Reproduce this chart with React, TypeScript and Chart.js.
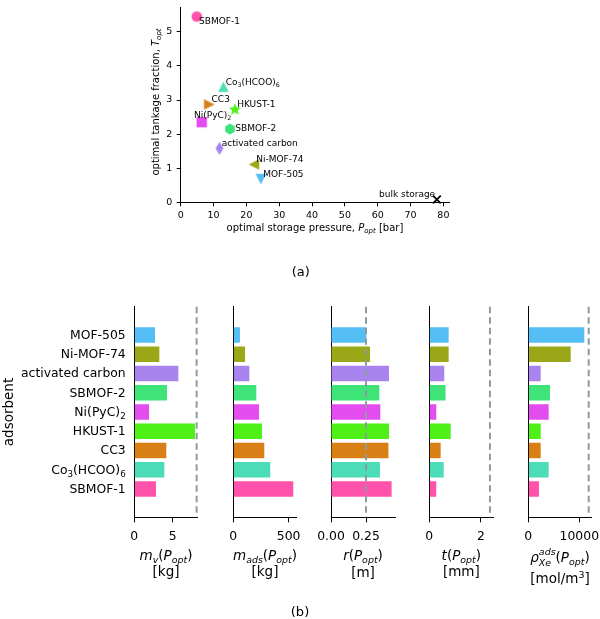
import React, { useEffect, useRef } from "react";
import { Chart, registerables } from "chart.js";

Chart.register(...registerables);

// ---------------- data ----------------
const ADSORBENTS = [
  "MOF-505",
  "Ni-MOF-74",
  "activated carbon",
  "SBMOF-2",
  "Ni(PyC)₂",
  "HKUST-1",
  "CC3",
  "Co₃(HCOO)₆",
  "SBMOF-1",
];
const COLORS = ["#55bef5", "#9aa817", "#a984ee", "#3fe479", "#e34cef", "#4ef016", "#d87f16", "#4cdcb8", "#ff52ab"];
const MARKERS = ["v", "<", "d", "h", "s", "*", ">", "^", "o"];

// optimal storage pressure [bar] and tankage fraction
const P_OPT = [24.4, 22.3, 11.8, 15.0, 6.4, 16.5, 8.7, 13.0, 4.9];
const T_OPT = [0.68, 1.11, 1.58, 2.15, 2.35, 2.72, 2.87, 3.39, 5.45];
const BULK_LABEL = "bulk storage";
const BULK_P = 78.0;
const BULK_T = 0.085;
const P_TICKS = [0, 10, 20, 30, 40, 50, 60, 70, 80];
const T_TICKS = [0, 1, 2, 3, 4, 5];

// bar panels
const M_V = [2.7, 3.26, 5.74, 4.26, 1.92, 7.91, 4.17, 3.91, 2.83];
const M_ADS = [60, 106, 145, 208, 232, 259, 280, 334, 542];
const R_TANK = [0.252, 0.279, 0.414, 0.345, 0.352, 0.414, 0.41, 0.35, 0.433];
const T_WALL = [0.75, 0.75, 0.58, 0.63, 0.27, 0.83, 0.44, 0.56, 0.27];
const RHO_XE = [10980, 8310, 2430, 4250, 3990, 2430, 2430, 3990, 2100];

const MV_TICKS = [0, 5];
const MADS_TICKS = [0, 500];
const R_TICKS = [0, 0.25];
const T_TICKS_BAR = [0, 2];
const RHO_TICKS = [0, 10000];

const MV_LIMIT = 8.12;
const R_LIMIT = 0.25;
const T_LIMIT = 2.35;
const RHO_LIMIT = 11840;

// ---------------- layout / style ----------------
const W = 600;
const H = 619;
const XH = 40;
const FONT = '"DejaVu Sans", "Liberation Sans", sans-serif';
const LIMIT_COLOR = "#8c9c9c";

type Seg = { t?: string; i?: boolean; sub?: boolean; sup?: boolean; up?: string; dn?: string };
type TextItem = { x: number; y: number; size: number; segs: Seg[]; align?: "left" | "center" | "right"; rot?: number };
type Area = { l: number; t: number; r: number; b: number };

const SUB_DIGITS = "₀₁₂₃₄₅₆₇₈₉";

// turn a name with unicode subscript digits into rich-text segments
function nameSegs(name: string): Seg[] {
  const out: Seg[] = [];
  for (const ch of name) {
    const d = SUB_DIGITS.indexOf(ch);
    const sub = d >= 0;
    const c = sub ? String(d) : ch;
    const last = out[out.length - 1];
    if (last && !!last.sub === sub) last.t += c;
    else out.push({ t: c, sub });
  }
  return out;
}

function fontStr(size: number, italic: boolean) {
  return `${italic ? "italic " : ""}${size}px ${FONT}`;
}

function segWidth(ctx: CanvasRenderingContext2D, s: Seg, size: number) {
  const small = size * 0.7;
  if (s.up !== undefined || s.dn !== undefined) {
    ctx.font = fontStr(small, true);
    return Math.max(ctx.measureText(s.up || "").width, ctx.measureText(s.dn || "").width);
  }
  ctx.font = fontStr(s.sub || s.sup ? small : size, !!s.i);
  return ctx.measureText(s.t || "").width;
}

function drawRich(ctx: CanvasRenderingContext2D, item: TextItem) {
  const { x, y, size, segs, align = "center", rot = 0 } = item;
  ctx.save();
  ctx.translate(x, y);
  if (rot) ctx.rotate(rot);
  ctx.fillStyle = "#000";
  ctx.textBaseline = "alphabetic";
  ctx.textAlign = "left";
  const widths = segs.map((s) => segWidth(ctx, s, size));
  const total = widths.reduce((a, b) => a + b, 0);
  let cx = align === "left" ? 0 : align === "right" ? -total : -total / 2;
  const base = 0.35 * size;
  const small = size * 0.7;
  segs.forEach((s, k) => {
    if (s.up !== undefined || s.dn !== undefined) {
      ctx.font = fontStr(small, true);
      if (s.up) ctx.fillText(s.up, cx, base - 0.5 * size);
      if (s.dn) ctx.fillText(s.dn, cx, base + 0.28 * size);
    } else {
      const fs = s.sub || s.sup ? small : size;
      ctx.font = fontStr(fs, !!s.i);
      const dy = s.sub ? 0.24 * size : s.sup ? -0.42 * size : 0;
      ctx.fillText(s.t || "", cx, base + dy);
    }
    cx += widths[k];
  });
  ctx.restore();
}

function textPlugin(items: TextItem[]) {
  return {
    id: "richText",
    afterDraw(chart: any) {
      const ctx = chart.ctx as CanvasRenderingContext2D;
      items.forEach((it) => drawRich(ctx, it));
    },
  };
}

// category labels on the left of the first bar panel (rich text, for the subscripts)
const categoryLabelPlugin = {
  id: "categoryLabels",
  afterDraw(chart: any) {
    const ctx = chart.ctx as CanvasRenderingContext2D;
    const ys = chart.scales.y;
    const x = chart.chartArea.left - 8.6;
    ADSORBENTS.forEach((name, i) => {
      drawRich(ctx, { x, y: ys.getPixelForValue(i) - 0.5, size: 12.4, segs: nameSegs(name), align: "right" });
    });
  },
};

function limitPlugin(value: number | null) {
  return {
    id: "limitLine",
    afterDatasetsDraw(chart: any) {
      if (value === null) return;
      const ctx = chart.ctx as CanvasRenderingContext2D;
      const px = chart.scales.x.getPixelForValue(value);
      const { top, bottom } = chart.chartArea;
      ctx.save();
      ctx.strokeStyle = LIMIT_COLOR;
      ctx.lineWidth = 2;
      ctx.setLineDash([6.5, 4]);
      ctx.beginPath();
      ctx.moveTo(px, top);
      ctx.lineTo(px, bottom);
      ctx.stroke();
      ctx.restore();
    },
  };
}

function frame(area: Area) {
  return {
    padding: { left: 0, top: area.t, right: W - area.r, bottom: H - area.b - XH },
    fitY: (s: any) => {
      s.width = area.l;
      s.paddingTop = 0;
      s.paddingBottom = 0;
    },
    fitX: (s: any) => {
      s.height = XH;
      s.paddingLeft = 0;
      s.paddingRight = 0;
    },
  };
}

function makeMarker(kind: string, color: string): HTMLCanvasElement {
  const S = 18;
  const c = document.createElement("canvas");
  c.width = S;
  c.height = S;
  const g = c.getContext("2d")!;
  g.fillStyle = color;
  g.translate(S / 2, S / 2);
  g.beginPath();
  const tri = (rot: number) => {
    g.rotate(rot);
    const r = 5.3;
    g.moveTo(0, -r);
    g.lineTo(r, r);
    g.lineTo(-r, r);
    g.closePath();
  };
  switch (kind) {
    case "o":
      g.arc(0, 0, 5.3, 0, Math.PI * 2);
      break;
    case "s":
      g.rect(-5.2, -5.2, 10.4, 10.4);
      break;
    case "^":
      tri(0);
      break;
    case ">":
      tri(Math.PI / 2);
      break;
    case "v":
      tri(Math.PI);
      break;
    case "<":
      tri(-Math.PI / 2);
      break;
    case "h":
      for (let k = 0; k < 6; k++) {
        const a = -Math.PI / 2 + (k * Math.PI) / 3;
        const px = 5.5 * Math.cos(a);
        const py = 5.5 * Math.sin(a);
        if (k === 0) g.moveTo(px, py);
        else g.lineTo(px, py);
      }
      g.closePath();
      break;
    case "*":
      for (let k = 0; k < 10; k++) {
        const a = -Math.PI / 2 + (k * Math.PI) / 5;
        const rr = k % 2 === 0 ? 6.6 : 6.6 * 0.42;
        const px = rr * Math.cos(a);
        const py = rr * Math.sin(a);
        if (k === 0) g.moveTo(px, py);
        else g.lineTo(px, py);
      }
      g.closePath();
      break;
    case "d":
      g.moveTo(0, -6.4);
      g.lineTo(4, 0);
      g.lineTo(0, 6.4);
      g.lineTo(-4, 0);
      g.closePath();
      break;
  }
  g.fill();
  return c;
}

const LABEL_OFFSETS: Record<string, [number, number]> = {
  "SBMOF-1": [2.3, 4.7],
  "Ni(PyC)₂": [-7.7, -7.7],
  "SBMOF-2": [5.3, -0.7],
};
const DEFAULT_OFFSET: [number, number] = [2.3, -5.3];

const scatterLabelPlugin = {
  id: "pointLabels",
  afterDatasetsDraw(chart: any) {
    const ctx = chart.ctx as CanvasRenderingContext2D;
    const xs = chart.scales.x;
    const ys = chart.scales.y;
    ADSORBENTS.forEach((name, i) => {
      const [dx, dy] = LABEL_OFFSETS[name] || DEFAULT_OFFSET;
      drawRich(ctx, {
        x: xs.getPixelForValue(P_OPT[i]) + dx,
        y: ys.getPixelForValue(T_OPT[i]) + dy,
        size: 9,
        segs: nameSegs(name),
        align: "left",
      });
    });
    drawRich(ctx, {
      x: xs.getPixelForValue(BULK_P) - 1.7,
      y: ys.getPixelForValue(BULK_T) - 6,
      size: 9,
      segs: [{ t: BULK_LABEL }],
      align: "right",
    });
  },
};

const baseOptions = {
  responsive: false,
  maintainAspectRatio: false,
  animation: false as const,
  devicePixelRatio: 1,
  events: [] as any[],
  plugins: { legend: { display: false }, tooltip: { enabled: false } },
};

function scatterConfig(): any {
  const fr = frame({ l: 180.7, t: 1.5, r: 449, b: 202.3 });
  const markers = MARKERS.map((m, i) => makeMarker(m, COLORS[i]));
  return {
    type: "scatter",
    data: {
      datasets: [
        {
          data: P_OPT.map((p, i) => ({ x: p, y: T_OPT[i] })),
          pointStyle: markers,
          pointRadius: 6,
          clip: false,
        },
        {
          data: [{ x: BULK_P, y: BULK_T }],
          pointStyle: "crossRot",
          pointRadius: 5.5,
          borderColor: "#000",
          backgroundColor: "#000",
          borderWidth: 1.8,
          clip: false,
        },
      ],
    },
    options: {
      ...baseOptions,
      layout: { padding: fr.padding },
      scales: {
        x: {
          type: "linear",
          min: 0,
          max: 81.7,
          afterBuildTicks: (s: any) => {
            s.ticks = P_TICKS.map((v) => ({ value: v }));
          },
          afterFit: fr.fitX,
          ticks: { font: { size: 9.5, family: FONT }, color: "#000", padding: 4, maxRotation: 0, autoSkip: false, callback: (v: number) => String(v) },
          grid: { drawOnChartArea: false, drawTicks: true, tickLength: 4, tickColor: "#000", tickWidth: 1 },
          border: { display: true, color: "#000", width: 1 },
        },
        y: {
          type: "linear",
          min: 0,
          max: 5.72,
          afterBuildTicks: (s: any) => {
            s.ticks = T_TICKS.map((v) => ({ value: v }));
          },
          afterFit: fr.fitY,
          ticks: { font: { size: 9.5, family: FONT }, color: "#000", padding: 4.4, autoSkip: false, callback: (v: number) => String(v) },
          grid: { drawOnChartArea: false, drawTicks: true, tickLength: 4, tickColor: "#000", tickWidth: 1 },
          border: { display: true, color: "#000", width: 1 },
        },
      },
    },
    plugins: [
      scatterLabelPlugin,
      textPlugin([
        {
          x: 314.9,
          y: 227.5,
          size: 10,
          segs: [{ t: "optimal storage pressure, " }, { t: "P", i: true }, { t: "opt", i: true, sub: true }, { t: " [bar]" }],
        },
        {
          x: 155,
          y: 102,
          size: 10,
          rot: -Math.PI / 2,
          segs: [{ t: "optimal tankage fraction, " }, { t: "T", i: true }, { t: "opt", i: true, sub: true }],
        },
        { x: 300.8, y: 271, size: 13, segs: [{ t: "(a)" }] },
      ]),
    ],
  };
}

type Panel = {
  values: number[];
  ticks: number[];
  max: number;
  limit: number | null;
  area: Area;
  fmt: (v: number) => string;
  title: Seg[];
  unit: Seg[];
  titleY: number;
  unitY: number;
};

const P_SEGS: Seg[] = [{ t: "(" }, { t: "P", i: true }, { t: "opt", i: true, sub: true }, { t: ")" }];
const BAR_TOP = 306.7;
const BAR_BOTTOM = 517.3;

const PANELS: Panel[] = [
  {
    values: M_V,
    ticks: MV_TICKS,
    max: 8.27,
    limit: MV_LIMIT,
    area: { l: 134.3, t: BAR_TOP, r: 197.8, b: BAR_BOTTOM },
    fmt: (v) => String(v),
    title: [{ t: "m", i: true }, { t: "v", i: true, sub: true }, ...P_SEGS],
    unit: [{ t: "[kg]" }],
    titleY: 555,
    unitY: 571.7,
  },
  {
    values: M_ADS,
    ticks: MADS_TICKS,
    max: 573,
    limit: null,
    area: { l: 233.3, t: BAR_TOP, r: 296.7, b: BAR_BOTTOM },
    fmt: (v) => String(v),
    title: [{ t: "m", i: true }, { t: "ads", i: true, sub: true }, ...P_SEGS],
    unit: [{ t: "[kg]" }],
    titleY: 555,
    unitY: 571.7,
  },
  {
    values: R_TANK,
    ticks: R_TICKS,
    max: 0.457,
    limit: R_LIMIT,
    area: { l: 331, t: BAR_TOP, r: 395, b: BAR_BOTTOM },
    fmt: (v) => v.toFixed(2),
    title: [{ t: "r", i: true }, ...P_SEGS],
    unit: [{ t: "[m]" }],
    titleY: 555,
    unitY: 572.5,
  },
  {
    values: T_WALL,
    ticks: T_TICKS_BAR,
    max: 2.48,
    limit: T_LIMIT,
    area: { l: 429.3, t: BAR_TOP, r: 493.3, b: BAR_BOTTOM },
    fmt: (v) => String(v),
    title: [{ t: "t", i: true }, ...P_SEGS],
    unit: [{ t: "[mm]" }],
    titleY: 555,
    unitY: 571.7,
  },
  {
    values: RHO_XE,
    ticks: RHO_TICKS,
    max: 12430,
    limit: RHO_LIMIT,
    area: { l: 528.3, t: BAR_TOP, r: 591.7, b: BAR_BOTTOM },
    fmt: (v) => String(v),
    title: [{ t: "ρ", i: true }, { up: "ads", dn: "Xe" }, ...P_SEGS],
    unit: [{ t: "[mol/m" }, { t: "3", sup: true }, { t: "]" }],
    titleY: 557,
    unitY: 578.5,
  },
];

function barConfig(p: Panel, k: number): any {
  const fr = frame(p.area);
  const cx = (p.area.l + p.area.r) / 2;
  const texts: TextItem[] = [
    { x: cx, y: p.titleY, size: 13.5, segs: p.title },
    { x: cx, y: p.unitY, size: 13.5, segs: p.unit },
  ];
  if (k === 0) {
    texts.push({ x: 8, y: 412, size: 13.5, rot: -Math.PI / 2, segs: [{ t: "adsorbent" }] });
    texts.push({ x: 300, y: 611, size: 13, segs: [{ t: "(b)" }] });
  }
  const plugins: any[] = [limitPlugin(p.limit), textPlugin(texts)];
  if (k === 0) plugins.push(categoryLabelPlugin);
  return {
    type: "bar",
    data: {
      datasets: [
        {
          data: p.values.map((v, i) => ({ x: v, y: i })),
          backgroundColor: COLORS,
          borderWidth: 0,
          barPercentage: 0.8,
          categoryPercentage: 1,
        },
      ],
    },
    options: {
      ...baseOptions,
      indexAxis: "y",
      layout: { padding: fr.padding },
      scales: {
        x: {
          type: "linear",
          min: 0,
          max: p.max,
          afterBuildTicks: (s: any) => {
            s.ticks = p.ticks.map((v) => ({ value: v }));
          },
          afterFit: fr.fitX,
          ticks: { font: { size: 12.4, family: FONT }, color: "#000", padding: 7, maxRotation: 0, autoSkip: false, callback: (v: number) => p.fmt(v) },
          grid: { drawOnChartArea: false, drawTicks: true, tickLength: 5, tickColor: "#000", tickWidth: 1 },
          border: { display: true, color: "#000", width: 1 },
        },
        y: {
          type: "linear",
          reverse: true,
          min: -0.86,
          max: 8.86,
          afterBuildTicks: (s: any) => {
            s.ticks = ADSORBENTS.map((_, i) => ({ value: i }));
          },
          afterFit: fr.fitY,
          ticks: { display: false },
          grid: { display: false, drawTicks: false },
          border: { display: true, color: "#000", width: 1 },
        },
      },
    },
    plugins,
  };
}

export default function App() {
  const refs = useRef<(HTMLCanvasElement | null)[]>([]);

  useEffect(() => {
    Chart.defaults.font.family = FONT;
    Chart.defaults.color = "#000";
    const charts: Chart[] = [];
    const c0 = refs.current[0];
    if (c0) charts.push(new Chart(c0, scatterConfig()));
    PANELS.forEach((p, k) => {
      const c = refs.current[k + 1];
      if (c) charts.push(new Chart(c, barConfig(p, k)));
    });
    return () => charts.forEach((c) => c.destroy());
  }, []);

  return (
    <div style={{ position: "fixed", left: 0, top: 0, width: W, height: H, background: "#fff", overflow: "hidden" }}>
      {Array.from({ length: 1 + PANELS.length }).map((_, i) => (
        <canvas
          key={i}
          ref={(el) => {
            refs.current[i] = el;
          }}
          width={W}
          height={H}
          style={{ position: "absolute", left: 0, top: 0, width: W, height: H }}
        />
      ))}
    </div>
  );
}
